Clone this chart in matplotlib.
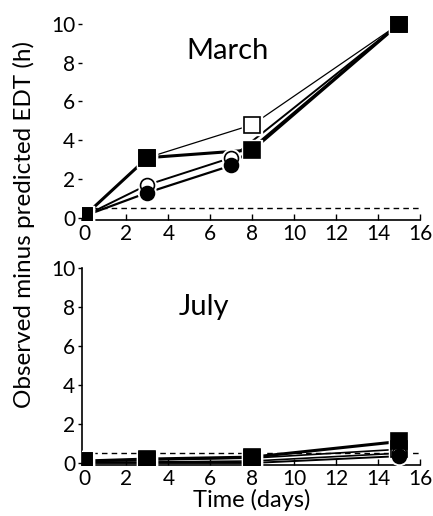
import numpy as np
import matplotlib.pyplot as plt

# time points (days)
march_x = [0, 3, 8, 15]
march_x_circ = [0, 3, 7, 15]
july_x = [0, 3, 8, 15]

# March series
march_filled_sq = [0.1, 3.1, 3.5, 10.0]
march_open_sq = [0.1, 3.1, 4.8, 10.0]
march_open_circ = [0.1, 1.7, 3.1, 10.0]
march_filled_circ = [0.1, 1.3, 2.7, 10.0]

# July series
july_filled_sq = [0.1, 0.2, 0.3, 1.1]
july_open_sq = [0.1, 0.15, 0.25, 0.7]
july_open_circ = [0.05, 0.05, 0.1, 0.5]
july_filled_circ = [0.0, 0.0, 0.0, 0.35]

threshold = 0.5

plt.rcParams['font.family'] = ['Lato', 'DejaVu Sans']


def draw_series(ax, x, y, marker, filled, lw, ms):
    ax.plot(x, y, color='black', lw=lw, zorder=2, solid_capstyle='butt')
    # white halo so lines stop short of the symbols
    ax.plot(x, y, ls='none', marker=marker, ms=ms + 3, mfc='white', mec='white', zorder=3)
    ax.plot(x, y, ls='none', marker=marker, ms=ms,
            mfc='black' if filled else 'white', mec='black', mew=1.2, zorder=4)


def style(ax, show_left):
    ax.set_xlim(-0.1, 16)
    ax.set_xticks(range(0, 17, 2))
    ax.set_yticks(range(0, 11, 2))
    ax.spines['top'].set_visible(False)
    ax.spines['right'].set_visible(False)
    ax.spines['left'].set_visible(show_left)
    ax.spines['bottom'].set_linewidth(1.2)
    ax.spines['left'].set_linewidth(1.2)
    ax.tick_params(axis='x', direction='in', length=4, width=1, pad=3, labelsize=15)
    ax.tick_params(axis='y', direction='out', length=3, width=1, pad=2, labelsize=15)
    ax.axhline(threshold, color='black', lw=1, ls=(0, (4, 3)), zorder=1)


fig = plt.figure(figsize=(4.33, 5.16), dpi=100)

ax1 = fig.add_axes([0.19, 0.574, 0.781, 0.395])
ax1.set_ylim(-0.1, 10.4)
style(ax1, False)
draw_series(ax1, march_x, march_open_sq, 's', False, 0.9, 11)
draw_series(ax1, march_x_circ, march_open_circ, 'o', False, 1.4, 10)
draw_series(ax1, march_x_circ, march_filled_circ, 'o', True, 1.6, 10)
draw_series(ax1, march_x, march_filled_sq, 's', True, 2.2, 11)
ax1.text(6.8, 8.6, 'March', fontsize=21, ha='center', va='center')

ax2 = fig.add_axes([0.19, 0.099, 0.781, 0.382])
ax2.set_ylim(-0.1, 10)
style(ax2, True)
draw_series(ax2, july_x, july_open_sq, 's', False, 1.2, 11)
draw_series(ax2, july_x, july_open_circ, 'o', False, 1.2, 10)
draw_series(ax2, july_x, july_filled_circ, 'o', True, 1.4, 10)
draw_series(ax2, july_x, july_filled_sq, 's', True, 2.2, 11)
ax2.text(5.7, 8.0, 'July', fontsize=21, ha='center', va='center')
ax2.set_xlabel('Time (days)', fontsize=17, labelpad=0)

fig.text(0.055, 0.564, 'Observed minus predicted EDT (h)', rotation=90,
         fontsize=17.5, ha='center', va='center')

fig.savefig('out.png', dpi=100)
